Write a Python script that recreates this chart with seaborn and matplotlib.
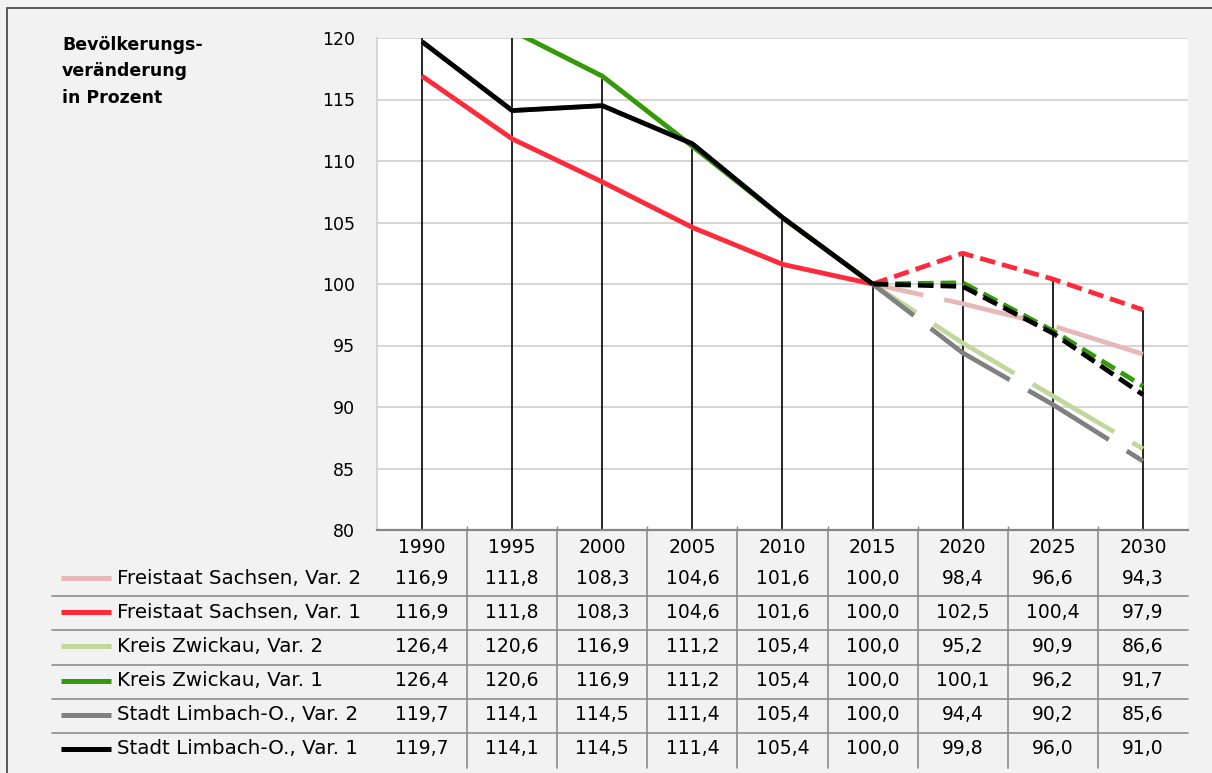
import numpy as np
import pandas as pd
import matplotlib
matplotlib.use("Agg")
import matplotlib.pyplot as plt
import matplotlib.transforms as mtransforms
from matplotlib.lines import Line2D
import seaborn as sns

# ---- data -------------------------------------------------------------
years = [1990, 1995, 2000, 2005, 2010, 2015, 2020, 2025, 2030]
base_year = 2015

series_labels = [
    "Freistaat Sachsen, Var. 2",
    "Freistaat Sachsen, Var. 1",
    "Kreis Zwickau, Var. 2",
    "Kreis Zwickau, Var. 1",
    "Stadt Limbach-O., Var. 2",
    "Stadt Limbach-O., Var. 1",
]
sachsen_var2 = [116.9, 111.8, 108.3, 104.6, 101.6, 100.0, 98.4, 96.6, 94.3]
sachsen_var1 = [116.9, 111.8, 108.3, 104.6, 101.6, 100.0, 102.5, 100.4, 97.9]
zwickau_var2 = [126.4, 120.6, 116.9, 111.2, 105.4, 100.0, 95.2, 90.9, 86.6]
zwickau_var1 = [126.4, 120.6, 116.9, 111.2, 105.4, 100.0, 100.1, 96.2, 91.7]
limbach_var2 = [119.7, 114.1, 114.5, 111.4, 105.4, 100.0, 94.4, 90.2, 85.6]
limbach_var1 = [119.7, 114.1, 114.5, 111.4, 105.4, 100.0, 99.8, 96.0, 91.0]
series_values = [sachsen_var2, sachsen_var1, zwickau_var2,
                 zwickau_var1, limbach_var2, limbach_var1]

y_ticks = [80, 85, 90, 95, 100, 105, 110, 115, 120]
title_text = "Bevölkerungs-\nveränderung\nin Prozent"

# ---- styling ----------------------------------------------------------
colors = ["#e6b9b8", "#ff2a3c", "#c3d69b", "#339a0a", "#808080", "#000000"]
# dash patterns (in units of line width) for the projected part
dash_long = (9.0, (20.0, 4.5))
dash_short = (0, (3.3, 1.5))
proj_styles = [dash_long, dash_short, dash_long, dash_short, dash_long, dash_short]

BG = "#f2f2f2"
W, H = 1212, 773
FONT = ["DejaVu Sans"]

sns.set_theme(style="white")
plt.rcParams["font.family"] = FONT
plt.rcParams["text.color"] = "#000000"

fig = plt.figure(figsize=(W / 100, H / 100), dpi=100, facecolor=BG)
ax_left, ax_right, ax_top, ax_bottom = 377, 1188, 38, 530
ax = fig.add_axes([ax_left / W, 1 - ax_bottom / H,
                   (ax_right - ax_left) / W, (ax_bottom - ax_top) / H])
ax.set_facecolor("white")

# long-form table: each series split into recorded and projected part
rows = []
for name, vals in zip(series_labels, series_values):
    for yr, v in zip(years, vals):
        if yr <= base_year:
            rows.append((name, "hist", yr, v))
        if yr >= base_year:
            rows.append((name, "proj", yr, v))
df = pd.DataFrame(rows, columns=["series", "part", "year", "value"])

LW = 3.4
for i, name in enumerate(series_labels):
    sub = df[df["series"] == name]
    sns.lineplot(data=sub[sub["part"] == "hist"], x="year", y="value",
                 ax=ax, color=colors[i], linewidth=LW, zorder=3 + i,
                 legend=False, solid_joinstyle="miter", solid_capstyle="butt")
    sns.lineplot(data=sub[sub["part"] == "proj"], x="year", y="value",
                 ax=ax, color=colors[i], linewidth=LW, zorder=3 + i,
                 linestyle=proj_styles[i], legend=False,
                 dash_capstyle="butt")

# drop lines from the highest value of each year down to the axis
top_vals = np.max(np.array(series_values), axis=0)
ax.vlines(years, 80, top_vals, colors="black", linewidth=1.2, zorder=2)

ax.set_xlim(years[0] - 2.5, years[-1] + 2.5)
ax.set_ylim(y_ticks[0], y_ticks[-1])
ax.set_yticks(y_ticks)
ax.set_yticklabels([str(t) for t in y_ticks])
ax.set_xticks(years)
ax.set_xticklabels([str(y) for y in years])
ax.set_xticks([y + 2.5 for y in years[:-1]], minor=True)
ax.tick_params(axis="y", length=0, pad=16, labelsize=12.5, labelcolor="black")
ax.tick_params(axis="x", which="major", length=0, pad=6, labelsize=13.5,
               labelcolor="black")
ax.tick_params(axis="x", which="minor", length=3, width=1, color="#868686",
               direction="in", bottom=True)
ax.grid(axis="y", color="#d0d0d0", linewidth=1.2, zorder=0)
ax.grid(axis="x", visible=False)
ax.set_axisbelow(True)
ax.set_xlabel("")
ax.set_ylabel("")
for side in ("top", "right"):
    ax.spines[side].set_visible(False)
ax.spines["left"].set_color("#d0d0d0")
ax.spines["left"].set_linewidth(1.2)
ax.spines["bottom"].set_color("#868686")
ax.spines["bottom"].set_linewidth(1.6)
ax.spines["bottom"].set_zorder(10)

# ---- data table under the plot ---------------------------------------
def fy(py):
    return 1 - py / H

def fx(px):
    return px / W

xdata_yfig = mtransforms.blended_transform_factory(ax.transData, fig.transFigure)

row_centers = [578, 612, 646, 681, 715, 749]
sep_lines = [596, 630, 665, 699, 733]

for i, (name, vals) in enumerate(zip(series_labels, series_values)):
    yc = fy(row_centers[i])
    fig.add_artist(Line2D([fx(61), fx(111)], [yc, yc], color=colors[i],
                          linewidth=3.6, solid_capstyle="butt"))
    fig.text(fx(117), yc, name, fontsize=14.3, ha="left", va="center")
    for yr, v in zip(years, vals):
        ax.text(yr, yc, f"{v:.1f}".replace(".", ","), transform=xdata_yfig,
                fontsize=13.5, ha="center", va="center", clip_on=False)

for sy in sep_lines:
    fig.add_artist(Line2D([fx(52), fx(ax_right)], [fy(sy), fy(sy)],
                          color="#8c8c8c", linewidth=1.2))
for b in [y + 2.5 for y in years[:-1]]:
    ax.plot([b, b], [fy(ax_bottom), fy(768)], transform=xdata_yfig,
            color="#8c8c8c", linewidth=1.2, clip_on=False)

# ---- title and outer frame -------------------------------------------
fig.text(fx(62), fy(36), title_text, fontsize=12.5, fontweight="bold",
         ha="left", va="top", linespacing=1.6)

fig.add_artist(Line2D([fx(7), fx(7)], [fy(8), 0], color="#595959", linewidth=1.4))
fig.add_artist(Line2D([fx(7), 1], [fy(8), fy(8)], color="#595959", linewidth=1.4))

fig.savefig("out.png", dpi=100, facecolor=BG)
